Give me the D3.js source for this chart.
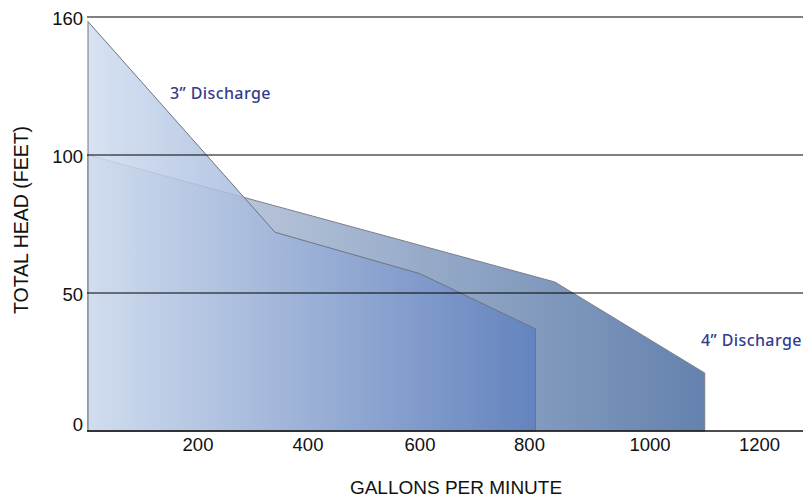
<!DOCTYPE html>
<html>
<head>
<meta charset="utf-8">
<script src="https://cdn.jsdelivr.net/npm/d3@7"></script>
<style>
    body { margin: 0; background: #fff; }
    svg { display: block; }
</style>
</head>
<body>
<script>
// pump curves
const gpm3 = [0, 340, 600, 810, 810];
const head3 = [158, 72, 57, 37, 0];
const gpm4 = [0, 842, 1100, 1100];
const head4 = [100, 54, 21, 0];
const xTicks = [200, 400, 600, 800, 1000, 1200];
const yTicks = [0, 50, 100, 160];

let width = 803, height = 498;

var svg = d3.select("body")
            .append("svg")
            .attr("width", width)
            .attr("height", height);

// tick labels in the original are not quite evenly spaced
var xScale = d3.scaleLinear()
            .domain([0].concat(xTicks))
            .range([88, 198, 308, 420, 529.5, 650, 759.5]);

// the tick marks are evenly spaced even though the top one says 160
var yScale = d3.scaleLinear()
            .domain(yTicks)
            .range([431, 293, 155, 17]);

var defs = svg.append("defs");

function gradient(id, x2, c1, c2) {
    let g = defs.append("linearGradient")
        .attr("id", id)
        .attr("gradientUnits", "userSpaceOnUse")
        .attr("x1", xScale(0)).attr("x2", xScale(x2))
        .attr("y1", 0).attr("y2", 0);
    g.append("stop").attr("offset", 0).attr("stop-color", c1);
    g.append("stop").attr("offset", 1).attr("stop-color", c2);
}

gradient("g4", 1100, "#d3dbe8", "#6482ae");
gradient("g3", 810, "#d0ddf0", "#5f7fbe");

function curve(gpm, head) {
    let pts = gpm.map((g, i) => [g, head[i]]);
    pts.push([0, 0]);
    return pts;
}

var area = d3.line()
    .x((d) => xScale(d[0]))
    .y((d) => yScale(d[1]));

svg.append("path")
    .attr("d", area(curve(gpm4, head4)) + "Z")
    .attr("fill", "url(#g4)")
    .attr("stroke", "#7a7f88")
    .attr("stroke-width", 1);

svg.append("path")
    .attr("d", area(curve(gpm3, head3)) + "Z")
    .attr("fill", "url(#g3)")
    .attr("fill-opacity", 0.85)
    .attr("stroke", "#6f747c")
    .attr("stroke-width", 1);

// grid lines
svg.append("g")
    .selectAll("line")
    .data(yTicks.slice(1))
    .enter()
    .append("line")
    .attr("x1", 87)
    .attr("x2", width)
    .attr("y1", (d) => yScale(d))
    .attr("y2", (d) => yScale(d))
    .style("stroke", "#000")
    .style("stroke-width", 1);

svg.append("line")
    .attr("x1", 87)
    .attr("x2", width)
    .attr("y1", yScale(0))
    .attr("y2", yScale(0))
    .style("stroke", "#111")
    .style("stroke-width", 1.6);

var font = "'Liberation Sans', Arial, sans-serif";

svg.append("g")
    .selectAll("text")
    .data(yTicks)
    .enter()
    .append("text")
    .attr("x", 83)
    .attr("y", (d) => d === 0 ? yScale(d) - 6 : yScale(d) + 1.5)
    .attr("dy", "0.35em")
    .attr("text-anchor", "end")
    .style("font-family", font)
    .style("font-size", "18.5px")
    .style("fill", "#111")
    .text((d) => d);

svg.append("g")
    .selectAll("text")
    .data(xTicks)
    .enter()
    .append("text")
    .attr("x", (d) => xScale(d))
    .attr("y", 445)
    .attr("dy", "0.35em")
    .attr("text-anchor", "middle")
    .style("font-family", font)
    .style("font-size", "18.5px")
    .style("fill", "#111")
    .text((d) => d);

svg.append("text")
    .attr("x", 456)
    .attr("y", 487)
    .attr("dy", "0.35em")
    .attr("text-anchor", "middle")
    .style("font-family", font)
    .style("font-size", "19px")
    .style("fill", "#111")
    .text("GALLONS PER MINUTE");

svg.append("text")
    .attr("transform", "translate(21, 220) rotate(-90)")
    .attr("dy", "0.35em")
    .attr("text-anchor", "middle")
    .style("font-family", font)
    .style("font-size", "19.5px")
    .style("fill", "#111")
    .text("TOTAL HEAD (FEET)");

var labelFont = "'Noto Sans', 'Open Sans', sans-serif";

svg.append("text")
    .attr("x", 170)
    .attr("y", 93)
    .attr("dy", "0.35em")
    .style("font-family", labelFont)
    .style("font-size", "16px")
    .style("font-weight", 500)
    .style("letter-spacing", "0.4px")
    .style("fill", "#323c8e")
    .text("3\u201D Discharge");

svg.append("text")
    .attr("x", 701)
    .attr("y", 340)
    .attr("dy", "0.35em")
    .style("font-family", labelFont)
    .style("font-size", "16px")
    .style("font-weight", 500)
    .style("letter-spacing", "0.4px")
    .style("fill", "#323c8e")
    .text("4\u201D Discharge");
</script>
</body>
</html>
